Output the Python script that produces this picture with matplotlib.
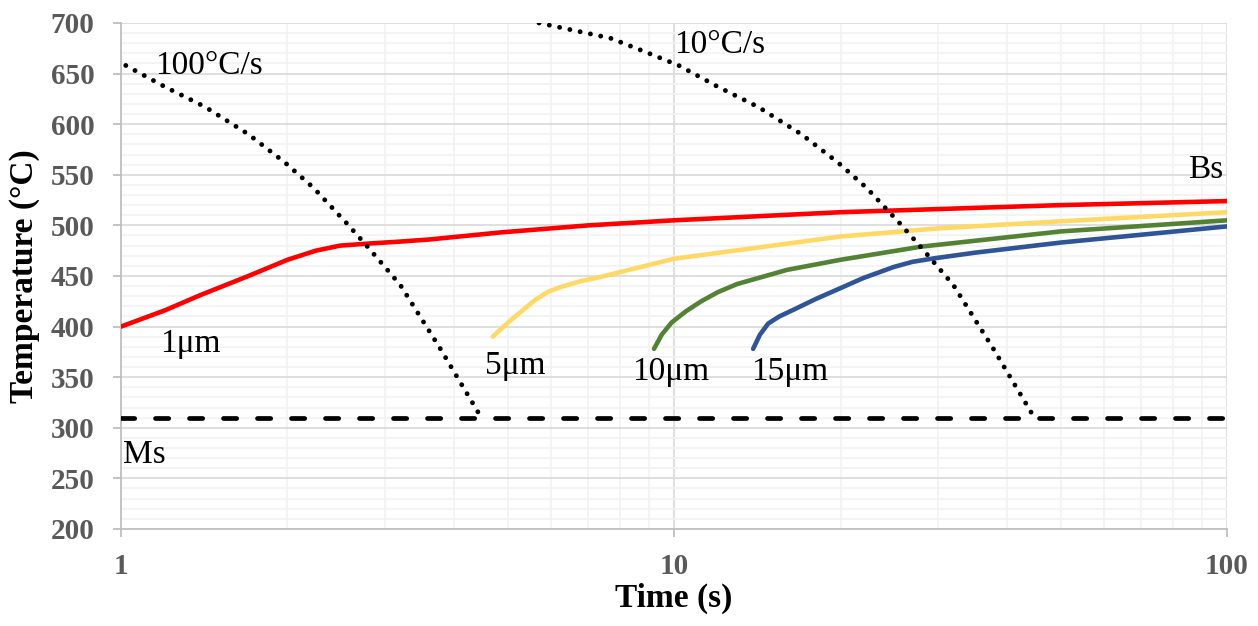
#!/usr/bin/env python3
import numpy as np
import matplotlib
matplotlib.use('Agg')
from matplotlib import pyplot as plt
from matplotlib.ticker import FixedLocator, NullFormatter, FuncFormatter

# ---- data --------------------------------------------------------------
t_1um = [1.0, 1.2, 1.39, 1.7, 2.0, 2.25, 2.49, 2.8, 3.2, 3.6, 4.85, 7.0, 10.0, 20.0, 50.0, 100.0]
T_1um = [400, 416, 431, 450, 466, 475, 480, 482, 484, 486, 493, 500, 505, 513, 520, 524]

t_5um = [4.7, 5.06, 5.6, 5.9, 6.23, 6.8, 7.36, 10.0, 20.0, 30.0, 50.0, 100.0]
T_5um = [390, 406, 426, 434, 439, 445, 449, 467, 489, 497, 504, 513]

t_10um = [9.2, 9.5, 9.9, 10.5, 11.2, 12.0, 13.0, 16.0, 20.0, 28.0, 50.0, 100.0]
T_10um = [378, 392, 404, 415, 425, 434, 442, 456, 466, 479, 494, 505]

t_15um = [13.9, 14.3, 14.8, 15.5, 16.5, 18.0, 20.0, 22.0, 25.0, 27.0, 29.6, 35.0, 50.0, 100.0]
T_15um = [378, 392, 403, 410, 417, 427, 438, 448, 459, 464, 467.5, 473, 483, 499]

t_100cs = [1.02, 1.2, 1.42, 1.7, 1.98, 2.23, 2.56, 2.78, 3.2, 3.78, 4.46]
T_100cs = [658, 637, 617, 590, 562, 537, 502, 480, 441, 378, 312]

t_10cs = [5.7, 7.67, 8.82, 10.2, 12.0, 14.2, 17.0, 19.8, 22.3, 25.6, 27.8, 32.0, 37.8, 44.6]
T_10cs = [700, 685, 672, 658, 637, 617, 590, 562, 537, 502, 480, 441, 378, 312]

ms_temp = 310
x_ticks = [1, 10, 100]
y_ticks = [200, 250, 300, 350, 400, 450, 500, 550, 600, 650, 700]

series = [
    (t_1um, T_1um, '#FF0000'),
    (t_5um, T_5um, '#FFD966'),
    (t_10um, T_10um, '#548235'),
    (t_15um, T_15um, '#2F5597'),
]

labels = [
    ('100°C/s', 1.152, 650),
    ('10°C/s', 10.0, 670),
    ('Bs', 85.0, 547),
    ('1μm', 1.176, 375),
    ('5μm', 4.56, 353),
    ('10μm', 8.4, 347),
    ('15μm', 13.76, 347),
    ('Ms', 1.008, 265),
]

# ---- figure ------------------------------------------------------------
serif = ['Liberation Serif', 'DejaVu Serif']
fig = plt.figure(figsize=(12.58, 6.26), dpi=100)
ax = fig.add_axes([0.0962, 0.155, 0.8792, 0.8083])

ax.set_xscale('log')
ax.set_xlim(1, 100)
ax.set_ylim(200, 700)

ax.xaxis.set_major_locator(FixedLocator(x_ticks))
ax.xaxis.set_minor_locator(FixedLocator([m * d for d in (1, 10) for m in range(2, 10)]))
ax.xaxis.set_major_formatter(FuncFormatter(lambda v, p: f'{v:g}'))
ax.xaxis.set_minor_formatter(NullFormatter())
ax.yaxis.set_major_locator(FixedLocator(y_ticks))
ax.yaxis.set_minor_locator(FixedLocator(list(range(200, 701, 10))))

ax.grid(True, which='minor', color='#f2f2f2', lw=1.2, zorder=0)
ax.grid(True, which='major', color='#d9d9d9', lw=1.2, zorder=0)
ax.set_axisbelow(True)

for s in ('top', 'right'):
    ax.spines[s].set_visible(False)
for s in ('left', 'bottom'):
    ax.spines[s].set_color('#bfbfbf')
    ax.spines[s].set_linewidth(1.3)

ax.tick_params(which='minor', length=0)
ax.tick_params(which='major', color='#bfbfbf', width=1.3, length=6)
ax.tick_params(axis='y', which='major', pad=13)
ax.tick_params(axis='x', which='major', pad=11)
for lab in ax.get_xticklabels() + ax.get_yticklabels():
    lab.set_family(serif)
    lab.set_fontweight('bold')
    lab.set_fontsize(21)
    lab.set_color('#595959')

for t, T, c in series:
    ax.plot(t, T, color=c, lw=3.3, solid_capstyle='round',
            solid_joinstyle='round', zorder=3)

for t, T in ((t_100cs, T_100cs), (t_10cs, T_10cs)):
    ax.plot(t, T, color='black', lw=3.5, linestyle=(0, (0.01, 2.15)),
            dash_capstyle='round', zorder=4)

ax.axhline(ms_temp, color='black', lw=3.4, linestyle=(0, (2.8, 4.4)),
           dash_capstyle='round', zorder=4)

for txt, x, y in labels:
    ax.text(x, y, txt, fontsize=24, family=serif, color='black',
            ha='left', va='baseline', zorder=5)

ax.set_xlabel('Time (s)', fontsize=24, fontweight='bold', family=serif, labelpad=2)
ax.set_ylabel('Temperature (°C)', fontsize=24, fontweight='bold', family=serif, labelpad=8)

plt.savefig('out.png', dpi=100)
plt.close(fig)
